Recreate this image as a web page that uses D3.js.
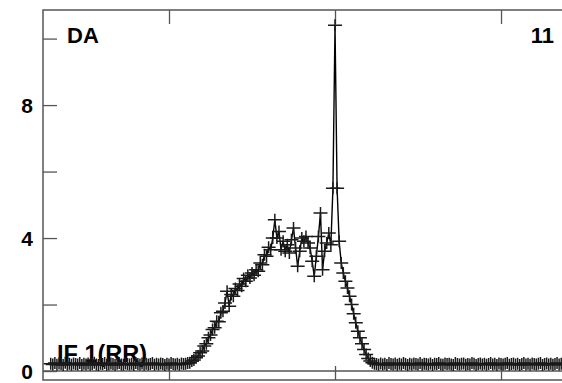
<!DOCTYPE html>
<html>
<head>
<meta charset="utf-8">
<script src="https://cdn.jsdelivr.net/npm/d3@7"></script>
<style>
  body { margin: 0; background: #fff; }
  svg { display: block; font-family: 'Liberation Sans', Arial, sans-serif; }
</style>
</head>
<body>
<svg id="chart" width="562" height="383"></svg>
<script>
// spectrum values, one per channel starting at firstChannel
const firstChannel = 3;
const baselineLeft = [
  0.22, 0.2, 0.24, 0.19, 0.23, 0.21, 0.18, 0.25, 0.2, 0.22,
  0.19, 0.23, 0.21, 0.2, 0.24, 0.18, 0.22, 0.2, 0.23, 0.19,
  0.21, 0.25, 0.2, 0.18, 0.22, 0.21, 0.24, 0.19, 0.2, 0.23,
  0.21, 0.18, 0.22, 0.24, 0.2, 0.19, 0.23, 0.21, 0.2, 0.22,
  0.18, 0.24, 0.21, 0.2, 0.23, 0.19, 0.22, 0.2, 0.21, 0.24,
  0.19, 0.22, 0.2, 0.23, 0.21, 0.18, 0.22, 0.2, 0.24, 0.21,
  0.2, 0.22, 0.19, 0.23, 0.21, 0.22, 0.24
];
const rise = [
  0.25, 0.3, 0.33, 0.4, 0.45, 0.55, 0.6, 0.75, 0.82, 1.0,
  1.08, 1.25, 1.3, 1.5, 1.48, 1.75, 1.8, 2.05, 2.4, 1.95,
  2.3, 2.25, 2.48, 2.42, 2.62, 2.55, 2.78, 2.7, 2.88, 2.8,
  2.95, 2.88, 3.05, 3.0, 3.25, 3.2, 3.5, 3.45, 3.72, 3.65,
  4.0, 4.55
];
const plateau = [
  4.0, 4.2, 3.65, 3.9, 3.6, 3.8, 3.55, 3.95, 4.3, 3.7,
  3.15, 3.6, 4.0, 3.9, 4.05, 3.85, 3.7, 3.3, 2.85, 3.45,
  4.05, 4.75, 3.05, 3.6, 3.85, 4.15, 3.8
];
const fall = [
  5.5, 10.4, 5.5, 3.9, 3.25, 2.95, 2.7, 2.5, 2.25, 2.0,
  1.72, 1.45, 1.2, 1.0, 0.82, 0.65, 0.5, 0.38, 0.3, 0.25,
  0.22
];
const baselineRight = [
  0.21, 0.19, 0.23, 0.2, 0.22, 0.18, 0.24, 0.21, 0.2, 0.23,
  0.19, 0.22, 0.2, 0.24, 0.21, 0.18, 0.22, 0.2, 0.23, 0.21,
  0.2, 0.24, 0.19, 0.22, 0.21, 0.2, 0.23, 0.18, 0.22, 0.21,
  0.24, 0.2, 0.19, 0.23, 0.21, 0.22, 0.2, 0.18, 0.24, 0.21,
  0.2, 0.22, 0.23, 0.19, 0.21, 0.2, 0.24, 0.22, 0.18, 0.21,
  0.23, 0.2, 0.22, 0.19, 0.21, 0.24, 0.2, 0.22, 0.18, 0.23,
  0.21, 0.2, 0.22, 0.24, 0.19, 0.21, 0.23, 0.2, 0.22, 0.18,
  0.21, 0.24, 0.2, 0.22, 0.19, 0.23, 0.21, 0.2, 0.22, 0.24,
  0.18, 0.21, 0.23, 0.2, 0.22, 0.19, 0.21, 0.24, 0.2, 0.22,
  0.21, 0.19, 0.23
];
const yTickValues = [0, 2, 4, 6, 8, 10];
const yTickLabels = { 0: '0', 4: '4', 8: '8' };
const xTickValues = [60, 140, 220];
const labelTopLeft = 'DA';
const labelTopRight = '11';
const labelBottom = 'IF 1(RR)';

const counts = baselineLeft.concat(rise, plateau, fall, baselineRight);
const data = counts.map((v, i) => ({ ch: firstChannel + i, v: v }));

const svg = d3.select('#chart');
const frame = { left: 43, top: 10, right: 569.5, bottom: 380 };
const tickLen = 14;
const frameColor = '#555';

const xScale = d3.scaleLinear().domain([-0.72, 253]).range([frame.left, frame.right]);
const yScale = d3.scaleLinear().domain([-0.27, 10.86]).range([frame.bottom, frame.top]);

// frame
svg.append('rect')
  .attr('x', frame.left).attr('y', frame.top)
  .attr('width', frame.right - frame.left).attr('height', frame.bottom - frame.top)
  .attr('fill', 'none').attr('stroke', frameColor).attr('stroke-width', 1.5);

// zero line
svg.append('line')
  .attr('x1', frame.left).attr('x2', frame.right)
  .attr('y1', yScale(0)).attr('y2', yScale(0))
  .attr('stroke', frameColor).attr('stroke-width', 1.5);

// y ticks pointing inward
const yAxisCall = d3.axisRight(yScale)
  .tickValues(yTickValues)
  .tickSize(tickLen)
  .tickFormat('');
const yAxis = svg.append('g')
  .attr('transform', `translate(${frame.left},0)`)
  .call(yAxisCall);
yAxis.select('.domain').remove();
yAxis.selectAll('line').attr('stroke', frameColor).attr('stroke-width', 1.3);

svg.selectAll('.ylabel')
  .data(yTickValues.filter(d => yTickLabels[d] !== undefined))
  .enter().append('text')
  .attr('class', 'ylabel')
  .attr('x', 33)
  .attr('y', d => yScale(d))
  .attr('dy', '0.36em')
  .attr('text-anchor', 'end')
  .attr('font-size', '21px')
  .attr('font-weight', 'bold')
  .text(d => yTickLabels[d]);

// x ticks, top and bottom, pointing inward
const xTop = svg.append('g')
  .attr('transform', `translate(0,${frame.top})`)
  .call(d3.axisBottom(xScale).tickValues(xTickValues).tickSize(tickLen).tickFormat(''));
const xBottom = svg.append('g')
  .attr('transform', `translate(0,${frame.bottom})`)
  .call(d3.axisTop(xScale).tickValues(xTickValues).tickSize(tickLen).tickFormat(''));
[xTop, xBottom].forEach(g => {
  g.select('.domain').remove();
  g.selectAll('line').attr('stroke', frameColor).attr('stroke-width', 1.3);
});

// labels
svg.append('text')
  .attr('x', 67).attr('y', 43)
  .attr('font-size', '22px').attr('font-weight', 'bold')
  .text(labelTopLeft);
svg.append('text')
  .attr('x', 554).attr('y', 43)
  .attr('text-anchor', 'end')
  .attr('font-size', '22px').attr('font-weight', 'bold')
  .text(labelTopRight);
svg.append('text')
  .attr('x', 57).attr('y', 362)
  .attr('font-size', '23.5px').attr('font-weight', 'bold')
  .text(labelBottom);

// spectrum line and + markers
const line = d3.line()
  .x(d => xScale(d.ch))
  .y(d => yScale(d.v));

svg.append('path')
  .datum(data)
  .attr('d', line)
  .attr('fill', 'none')
  .attr('stroke', '#000')
  .attr('stroke-width', 1.4);

svg.selectAll('.pt')
  .data(data)
  .enter().append('path')
  .attr('class', 'pt')
  .attr('transform', d => `translate(${xScale(d.ch)},${yScale(d.v)})`)
  .attr('d', 'M-7,0H7M0,-6V6')
  .attr('stroke', '#1a1a1a')
  .attr('stroke-width', 1.5)
  .attr('fill', 'none');
</script>
</body>
</html>
